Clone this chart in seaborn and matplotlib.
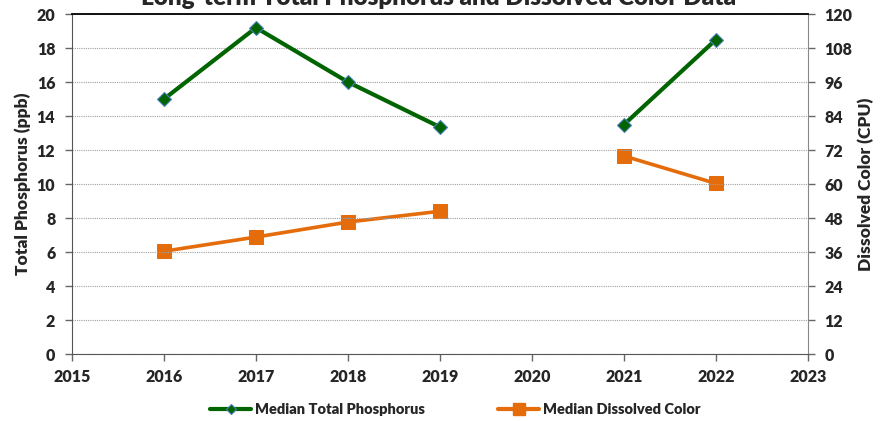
import pandas as pd
import seaborn as sns
import matplotlib.pyplot as plt
from matplotlib.lines import Line2D

years = [2016, 2017, 2018, 2019, 2021, 2022]
segment = [1, 1, 1, 1, 2, 2]
tp_median = [15.0, 19.2, 16.0, 13.35, 13.5, 18.5]
color_median = [36.3, 41.3, 46.6, 50.4, 69.9, 60.2]

tab = pd.DataFrame({'year': years, 'segment': segment,
                    'tp': tp_median, 'color': color_median})

sns.set_style('white')
plt.rcParams['font.family'] = ['Lato', 'DejaVu Sans']
plt.rcParams['font.weight'] = 'bold'

green = '#006400'
orange = '#E46C0A'

fig = plt.figure(figsize=(8.81, 4.21), dpi=100)
ax = fig.add_axes([0.0817, 0.159, 0.8354, 0.8076])
ax2 = ax.twinx()

# gridlines (dotted, every 2 ppb)
ax.set_axisbelow(True)
ax.yaxis.grid(True, linestyle=(0, (1, 1)), color='#a0a0a0', linewidth=0.8)

sns.lineplot(data=tab, x='year', y='color', units='segment', estimator=None,
             ax=ax2, color=orange, linewidth=2.6, marker='s', markersize=10.5,
             markeredgecolor=orange, legend=False)
sns.lineplot(data=tab, x='year', y='tp', units='segment', estimator=None,
             ax=ax, color=green, linewidth=3.0, marker='D', markersize=7,
             markeredgecolor='#4a7ebb', markeredgewidth=0.8, legend=False)

# phosphorus drawn above colour series
ax.set_zorder(ax2.get_zorder() + 1)
ax.patch.set_visible(False)

ax.set_xlim(2015, 2023)
ax.set_ylim(0, 20)
ax2.set_ylim(0, 120)
ax.set_xticks(range(2015, 2024))
ax.set_yticks(range(0, 21, 2))
ax2.set_yticks(range(0, 121, 12))

ax.set_xlabel('')
ax.set_ylabel('Total Phosphorus (ppb)', fontsize=12.5, fontweight='heavy', labelpad=4)
ax2.set_ylabel('Dissolved Color (CPU)', fontsize=12.5, fontweight='heavy', labelpad=4)

for a in (ax, ax2):
    a.tick_params(axis='both', labelsize=11.5, length=5, width=1, color='#666666',
                  direction='out', pad=7)
    for s in a.spines.values():
        s.set_visible(False)
    for lab in a.get_xticklabels() + a.get_yticklabels():
        lab.set_fontweight('heavy')
ax.tick_params(axis='x', pad=6)

ax.spines['left'].set_visible(True)
ax.spines['left'].set_color('#555555')
ax.spines['bottom'].set_visible(True)
ax.spines['bottom'].set_color('#555555')
ax.spines['top'].set_visible(True)
ax.spines['top'].set_color('black')
ax.spines['top'].set_linewidth(1.3)
ax2.spines['right'].set_visible(True)
ax2.spines['right'].set_color('#888888')
ax.tick_params(axis='y', left=True)
ax.tick_params(axis='x', bottom=True)
ax2.tick_params(axis='y', right=True)

fig.text(0.498, 0.978, 'Long-term Total Phosphorus and Dissolved Color Data',
         ha='center', va='bottom', fontsize=17.5, fontweight='heavy')

handles = [
    Line2D([], [], color=green, linewidth=3, marker='D', markersize=5,
           markeredgecolor='#4a7ebb', markeredgewidth=0.8),
    Line2D([], [], color=orange, linewidth=3, marker='s', markersize=8,
           markeredgecolor=orange),
]
fig.legend(handles, ['Median Total Phosphorus', 'Median Dissolved Color'],
           loc='center', bbox_to_anchor=(0.517, 0.027), ncol=2, frameon=False,
           handlelength=2.8, columnspacing=5.0, handletextpad=0.3,
           prop={'size': 10.5, 'weight': 'heavy'})

fig.savefig('out.png', dpi=100)
